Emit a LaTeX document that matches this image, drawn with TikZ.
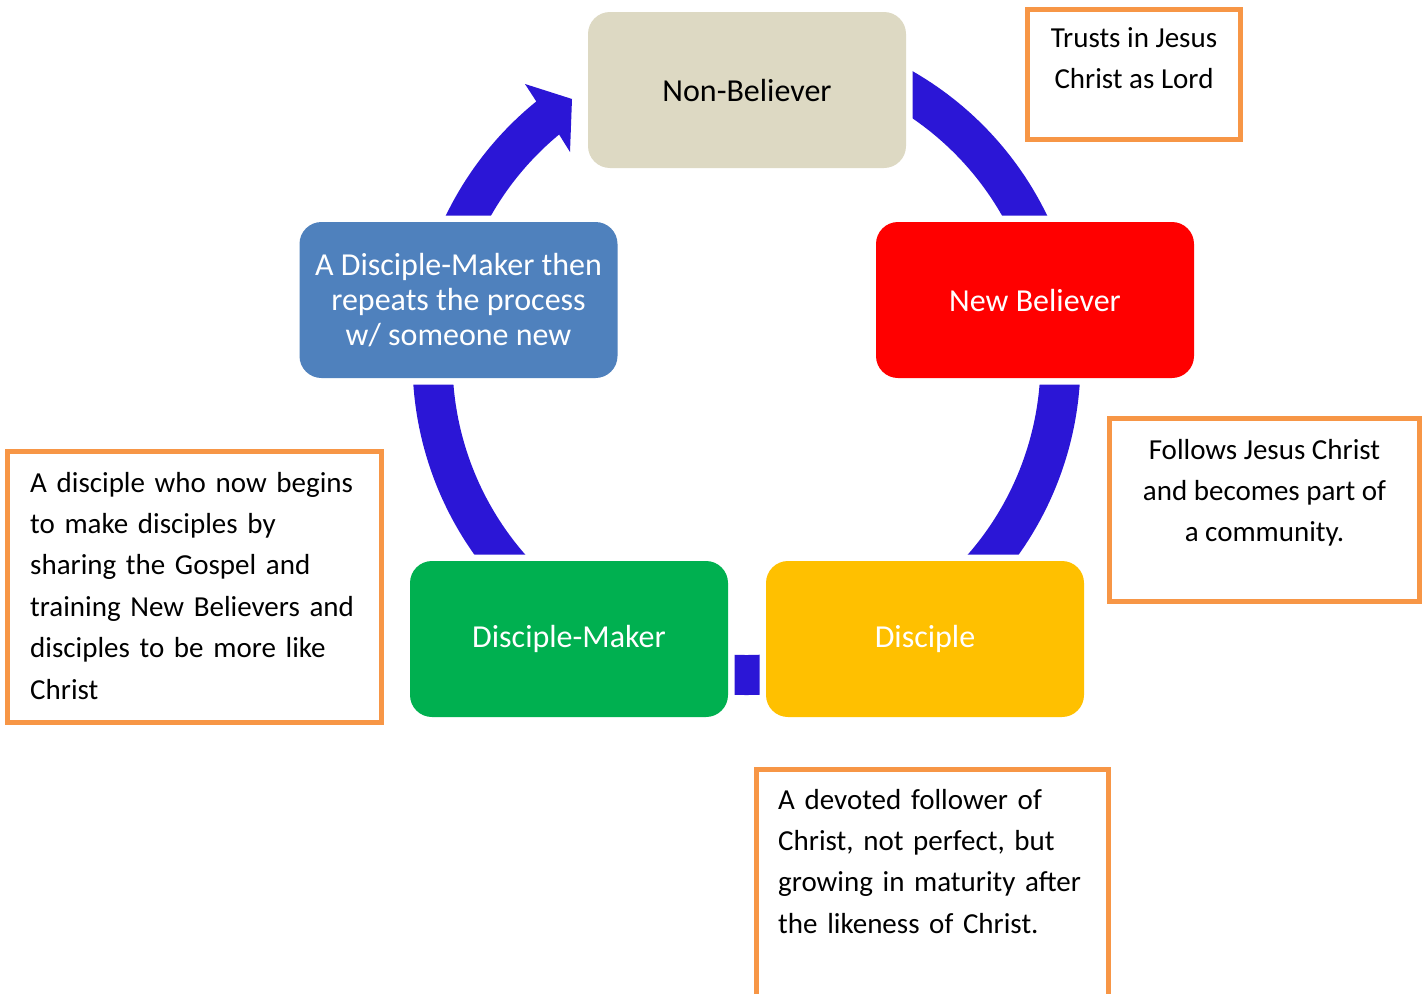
\documentclass[tikz,border=0pt]{standalone}
\usepackage{fontspec}
\setmainfont{Carlito}
\definecolor{ringblue}{RGB}{43,22,214}
\definecolor{nbbeige}{RGB}{221,217,195}
\definecolor{nbred}{RGB}{255,0,0}
\definecolor{discgold}{RGB}{255,192,0}
\definecolor{dmgreen}{RGB}{0,176,80}
\definecolor{repblue}{RGB}{79,129,189}
\definecolor{noteorange}{RGB}{247,150,70}
\begin{document}
\begin{tikzpicture}[x=1pt,y=-1pt,
  mainbox/.style={rectangle, rounded corners=22pt, minimum width=318pt, minimum height=156pt,
    inner sep=0pt, preaction={draw=white,line width=13pt}, text=white,
    font=\fontsize{32}{35}\selectfont, align=center},
  note/.style={rectangle, draw=noteorange, line width=5pt, inner sep=0pt},
  notetext/.style={inner sep=0pt, font=\fontsize{29}{41.4}\selectfont},
  ring/.style={draw=ringblue, line width=40pt}]
\useasboundingbox (0,0) rectangle (1426,993);
\fill[white] (0,0) rectangle (1426,993);
\coordinate (ctr) at (746.5,361);

% ring segments
\draw[ring] (ctr) ++(-65:314) arc[start angle=-65,end angle=-20,radius=314];
\draw[ring] (ctr) ++(-5:314) arc[start angle=-5,end angle=45,radius=314];
\draw[ring] (ctr) ++(80:314) arc[start angle=80,end angle=100,radius=314];
\draw[ring] (ctr) ++(135:314) arc[start angle=135,end angle=185,radius=314];
% arrow into Non-Believer
\fill[ringblue] (ctr) ++(195:334) arc[start angle=195,end angle=231,radius=334]
  -- (525,84) -- (572,99) -- (570,152) -- (559.1,134.5)
  arc[start angle=230.4,end angle=195,radius=294] -- cycle;

% main boxes
\node[mainbox, fill=nbbeige, text=black] (nonbel) at (747,90) {Non-Believer};
\node[mainbox, fill=nbred] (newbel) at (1035,300) {New Believer};
\node[mainbox, fill=discgold] (disc) at (925,639) {Disciple};
\node[mainbox, fill=dmgreen] (dmaker) at (569,639) {Disciple-Maker};
\node[mainbox, fill=repblue] (repeat) at (458.5,300) {A Disciple-Maker then\\repeats the process\\w/ someone new};

% notes
\node[note, minimum width=213pt, minimum height=130pt] (n1) at (1134,74.5) {};
\node[notetext, anchor=north, align=center] (t1) at (1134,18) {\strut Trusts in Jesus\\Christ as Lord};

\node[note, minimum width=310pt, minimum height=183pt] (n2) at (1264.5,510) {};
\node[notetext, anchor=north, align=center] (t2) at (1264.5,430) {\strut Follows Jesus Christ\\and becomes part of\\a community.};

\node[note, minimum width=374pt, minimum height=271pt] (n3) at (194.5,587) {};
\node[notetext, anchor=north west, align=left, text width=350pt] (t3) at (30,463) {\strut A disciple who now begins\\to make disciples by\\sharing the Gospel and\\training New Believers and\\disciples to be more like\\Christ};

\node[note, minimum width=352pt, minimum height=250pt] (n4) at (932.5,894.5) {};
\node[notetext, anchor=north west, align=left, text width=320pt] (t4) at (778,780) {\strut A devoted follower of\\Christ, not perfect, but\\growing in maturity after\\the likeness of Christ.};
\end{tikzpicture}
\end{document}
